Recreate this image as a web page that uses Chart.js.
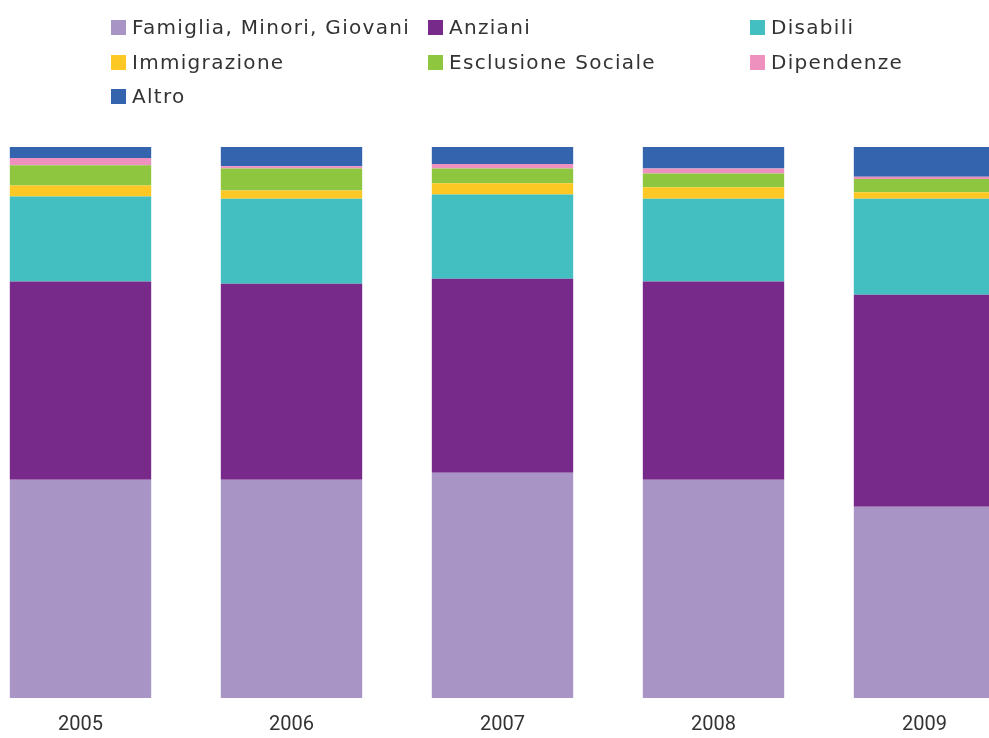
<!DOCTYPE html>
<html>
<head>
<meta charset="utf-8">
<script src="https://cdn.jsdelivr.net/npm/chart.js@4"></script>
<style>
  html, body { margin: 0; padding: 0; background: #fff; overflow: hidden; }
  body { width: 989px; height: 738px; position: relative; }
  #wrap { position: absolute; left: -25px; top: 0; width: 1055px; height: 753px; }
  #legend {
    position: absolute; left: 111px; top: 20px;
    display: grid; grid-template-columns: 317px 322px 240px; grid-auto-rows: 34.5px;
    font-family: "DejaVu Sans", sans-serif; font-size: 20px; letter-spacing: 1.3px; color: #333;
  }
  #legend .item { display: flex; align-items: flex-start; white-space: nowrap; }
  #legend .box { width: 15px; height: 15px; margin-right: 6px; flex: none; }
  #legend .txt { line-height: 15px; }
</style>
</head>
<body>
<div id="wrap"><canvas id="chart"></canvas></div>
<div id="legend"></div>
<script>
// anni
const years = ["2005", "2006", "2007", "2008", "2009"];

// quote percentuali per area (dal basso verso l'alto)
const famiglia = [39.6, 39.6, 40.9, 39.6, 34.7];
const anziani = [36.0, 35.6, 35.2, 36.0, 38.5];
const disabili = [15.4, 15.4, 15.3, 15.0, 17.4];
const immigrazione = [2.0, 1.5, 2.0, 2.1, 1.2];
const esclusione = [3.7, 4.0, 2.7, 2.5, 2.4];
const dipendenze = [1.3, 0.4, 0.8, 0.9, 0.4];
const altro = [2.0, 3.5, 3.1, 3.9, 5.4];

const series = [
  { label: "Famiglia, Minori, Giovani", data: famiglia, color: "#a994c6" },
  { label: "Anziani", data: anziani, color: "#782a8a" },
  { label: "Disabili", data: disabili, color: "#43bfc2" },
  { label: "Immigrazione", data: immigrazione, color: "#fec824" },
  { label: "Esclusione Sociale", data: esclusione, color: "#8ec63f" },
  { label: "Dipendenze", data: dipendenze, color: "#ee91be" },
  { label: "Altro", data: altro, color: "#3464ae" },
];

// legenda html a griglia (3 colonne)
const htmlLegend = {
  id: "htmlLegend",
  afterUpdate(chart) {
    const el = document.getElementById("legend");
    el.innerHTML = "";
    chart.options.plugins.legend.labels.generateLabels(chart).forEach((item) => {
      const div = document.createElement("div");
      div.className = "item";
      const box = document.createElement("span");
      box.className = "box";
      box.style.background = item.fillStyle;
      const txt = document.createElement("span");
      txt.className = "txt";
      txt.textContent = item.text;
      div.appendChild(box);
      div.appendChild(txt);
      el.appendChild(div);
    });
  },
};

const chart = new Chart(document.getElementById("chart"), {
  type: "bar",
  data: {
    labels: years,
    datasets: series.map((s) => ({
      label: s.label,
      data: s.data,
      backgroundColor: s.color,
      borderWidth: 0,
      categoryPercentage: 1,
      barPercentage: 0.67,
    })),
  },
  options: {
    responsive: true,
    maintainAspectRatio: false,
    animation: false,
    layout: { padding: { top: 147, bottom: 1, left: 0, right: 0 } },
    plugins: {
      legend: { display: false },
      tooltip: { enabled: false },
    },
    scales: {
      x: {
        stacked: true,
        grid: { display: false, drawTicks: false },
        border: { display: false },
        ticks: {
          padding: 15,
          color: "#333",
          font: { family: "Roboto", size: 20 },
          maxRotation: 0,
        },
      },
      y: {
        stacked: true,
        display: false,
        min: 0,
        max: 100,
      },
    },
  },
  plugins: [htmlLegend],
});
</script>
</body>
</html>
